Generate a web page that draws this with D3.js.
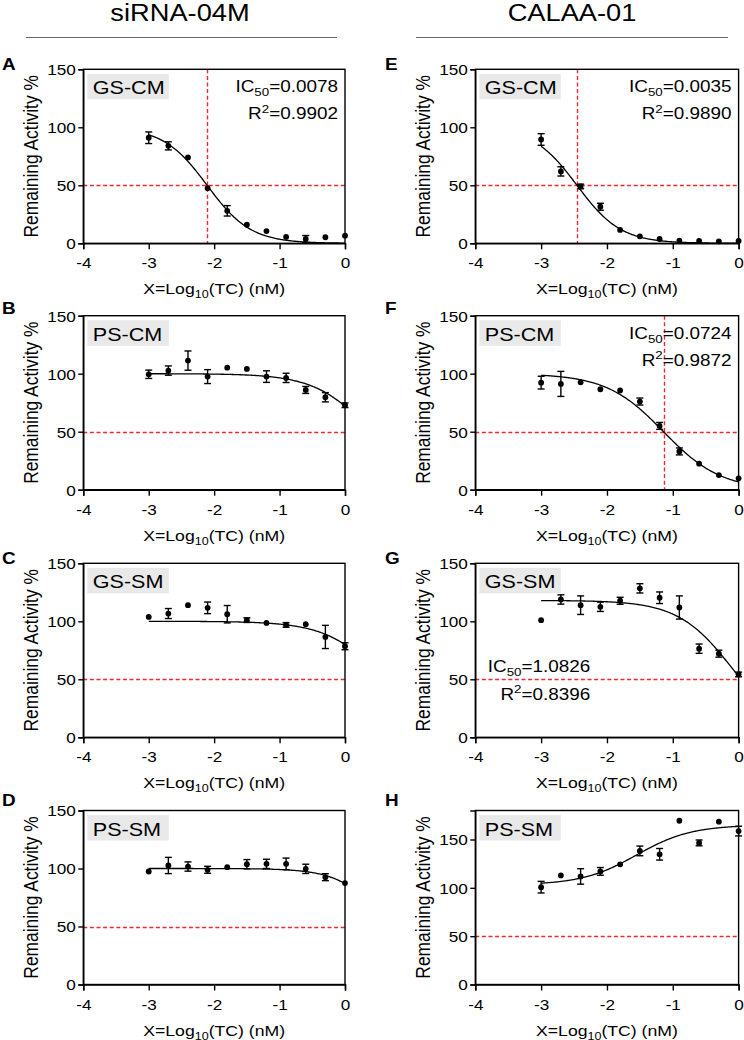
<!DOCTYPE html>
<html><head><meta charset="utf-8">
<script src="https://cdn.jsdelivr.net/npm/d3@7"></script>
<style>
html,body{margin:0;padding:0;background:#fff;}
svg{display:block;font-family:"Liberation Sans",Arial,sans-serif;}
</style></head>
<body>
<svg id="fig" width="744" height="1040"></svg>
<script>
// ---------------- data ----------------
const columnTitles = ["siRNA-04M", "CALAA-01"];
const panelLetters = ["A","B","C","D","E","F","G","H"];
const panelNames = ["GS-CM","PS-CM","GS-SM","PS-SM","GS-CM","PS-CM","GS-SM","PS-SM"];
const xLog = [-3, -2.7, -2.4, -2.1, -1.8, -1.5, -1.2, -0.9, -0.6, -0.3, 0];
const xTicks = [-4, -3, -2, -1, 0];
const yTicks = [0, 50, 100, 150];
const yMaxes = [150,150,150,150,150,150,150,180];

const A_mean = [91, 84, 74, 47.5, 28, 16, 10.5, 5.5, 3.7, 5.2, 6.6];
const A_err  = [5, 3.5, 0, 0, 4.5, 0, 0, 0, 3, 0, 0];
const B_mean = [99.5, 102.7, 111.3, 97.5, 105.2, 104.1, 97.5, 96.4, 86, 79.7, 72.8];
const B_err  = [3.6, 4, 8.3, 6, 0, 0, 5, 4, 3, 4, 2];
const C_mean = [103.8, 106.7, 113.9, 111.6, 106.1, 101, 98.6, 96.9, 97.5, 86.5, 78.5];
const C_err  = [0, 4.3, 0, 5, 7.5, 2, 0, 2, 0, 10, 3];
const D_mean = [97.4, 102.6, 101.7, 98.9, 101.1, 103.7, 104, 104, 99.7, 92.5, 87.4];
const D_err  = [0, 7, 4, 3, 0, 4, 4, 5, 4, 3, 0];
const E_mean = [89.5, 62, 49, 31.5, 11.5, 6, 3.7, 2.3, 2, 1.7, 2];
const E_err  = [5, 4, 2, 3, 0, 0, 0, 0, 0, 0, 0];
const F_mean = [92.3, 91.2, 92.6, 86.6, 85.5, 76, 55, 33, 22.4, 12.6, 9.8];
const F_err  = [5.5, 10.8, 0, 0, 0, 3, 3, 3, 0, 0, 0];
const G_mean = [101, 118.8, 113.9, 112.5, 117.7, 128.4, 120.3, 111.9, 76.4, 72.1, 54.2];
const G_err  = [0, 4, 8, 4, 3, 4, 5, 10, 4, 3, 2];
const H_mean = [100.7, 112.8, 111.8, 117, 124.3, 138.2, 134.7, 169.4, 146.5, 168.4, 158.7];
const H_err  = [6, 0, 8, 4, 0, 5, 6, 0, 3, 0, 5];

// fitted 4PL parameters: [bottom, top, logIC50, hill]
const A_fit = [0, 100, -2.108, 1.3];
const B_fit = [0, 100, 0.4, 1.02];
const C_fit = [0, 100, 0.6, 1.0];
const D_fit = [0, 100, 0.67, 1.23];
const E_fit = [0, 100, -2.456, 1.3];
const F_fit = [0, 100, -1.14, 1.0];
const G_fit = [0, 118, -0.09, 1.05];
const H_fit = [103, 165, -1.55, -1.05];

// annotations (IC50, R2); null = none
const ic50Values = [0.0078, null, null, null, 0.0035, 0.0724, 1.0826, null];
const ic50Labels = ["0.0078", null, null, null, "0.0035", "0.0724", "1.0826", null];
const r2Labels   = ["0.9902", null, null, null, "0.9890", "0.9872", "0.8396", null];

const means = [A_mean,B_mean,C_mean,D_mean,E_mean,F_mean,G_mean,H_mean];
const errs  = [A_err,B_err,C_err,D_err,E_err,F_err,G_err,H_err];
const fits  = [A_fit,B_fit,C_fit,D_fit,E_fit,F_fit,G_fit,H_fit];

// ---------------- layout ----------------
const SX = 1.16;               // horizontal stretch of the original figure's text
const RED = "#ea2a2f";
const cols = [{x0: 83.3, x1: 345, letterX: 2}, {x0: 475.3, x1: 738.6, letterX: 385}];
const rowTops = [69.3, 315.7, 563.3, 810.5];
const letterDY = [1, -2, 1, -5];
const plotH = 174;

const svg = d3.select("#fig");

function stext(parent, x, y, opts) {
  const t = parent.append("text")
    .attr("transform", `translate(${x},${y}) scale(${SX},1)` + (opts.rotate ? ` rotate(${opts.rotate})` : ""))
    .attr("font-size", opts.size)
    .attr("text-anchor", opts.anchor || "start")
    .attr("fill", opts.fill || "#000");
  if (opts.weight) t.attr("font-weight", opts.weight);
  if (opts.dy) t.attr("dy", opts.dy);
  return t;
}

// column headers
columnTitles.forEach((title, ci) => {
  const cx = ci === 0 ? 180 : 572;
  stext(svg, cx, 21, {size: 23.5, anchor: "middle"}).text(title);
  const lx0 = ci === 0 ? 26 : 416, lx1 = ci === 0 ? 337 : 728;
  svg.append("line").attr("x1", lx0).attr("x2", lx1).attr("y1", 37.5).attr("y2", 37.5)
    .attr("stroke", "#666").attr("stroke-width", 1.2);
});

const curve4pl = (p, x) => p[0] + (p[1] - p[0]) / (1 + Math.pow(10, (x - p[2]) * p[3]));

for (let i = 0; i < 8; i++) {
  const ci = Math.floor(i / 4), ri = i % 4;
  const col = cols[ci];
  const top = rowTops[ri], bottom = top + plotH;
  const x = d3.scaleLinear().domain([-4, 0]).range([col.x0, col.x1]);
  const y = d3.scaleLinear().domain([0, yMaxes[i]]).range([bottom, top]);
  const g = svg.append("g");

  // label box
  g.append("rect").attr("x", col.x0 + 4).attr("y", top + 4.5).attr("width", 81.5).attr("height", 25.5)
    .attr("fill", "#e9e9e9");
  stext(g, col.x0 + 9.5, top + 25, {size: 18.6}).text(panelNames[i]);

  // reference lines
  const y50 = Math.round(y(50)) + 0.5;
  g.append("line").attr("x1", col.x0).attr("x2", col.x1).attr("y1", y50).attr("y2", y50)
    .attr("stroke", RED).attr("stroke-width", 1.4).attr("stroke-dasharray", "4,2.6");
  if (ic50Values[i] !== null) {
    const lx = Math.log10(ic50Values[i]);
    if (lx <= 0) {
      const vx = Math.round(x(lx)) + 0.5;
      g.append("line").attr("x1", vx).attr("x2", vx).attr("y1", top).attr("y2", bottom)
        .attr("stroke", RED).attr("stroke-width", 1.4).attr("stroke-dasharray", "4,2.6");
    }
  }

  // frame (top/right)
  g.append("rect").attr("x", col.x0).attr("y", top).attr("width", col.x1 - col.x0).attr("height", plotH)
    .attr("fill", "none").attr("stroke", "#000").attr("stroke-width", 1.4);

  // axes
  const xAxis = d3.axisBottom(x).tickValues(xTicks).tickSize(6).tickPadding(3).tickFormat(d3.format("d"));
  const yAxis = d3.axisLeft(y).tickValues(yTicks).tickSize(5).tickPadding(3).tickFormat(d3.format("d"));
  const gx = g.append("g").attr("transform", `translate(0,${bottom})`).call(xAxis);
  const gy = g.append("g").attr("transform", `translate(${col.x0},0)`).call(yAxis);
  [gx, gy].forEach(a => {
    a.select(".domain").attr("stroke", "#000").attr("stroke-width", 1.4);
    a.selectAll(".tick line").attr("stroke", "#000").attr("stroke-width", 1.4);
    a.selectAll(".tick text").attr("fill", "#000").attr("font-size", 14.8)
      .attr("font-family", "Liberation Sans, Arial, sans-serif");
  });
  gx.selectAll(".tick text").each(function(d) {
    const t = d3.select(this);
    t.attr("y", null).attr("dy", null)
      .attr("transform", `translate(0,25) scale(${SX},1)`)
      .text(d3.format("d")(d).replace("−", "-"));
  });
  gy.selectAll(".tick text").each(function() {
    const t = d3.select(this);
    t.attr("x", null).attr("dy", null)
      .attr("transform", `translate(-7.5,5.3) scale(${SX},1)`);
  });

  // fitted curve
  const xs = d3.range(0, 201).map(k => -3 + 3 * k / 200);
  g.append("path").datum(xs)
    .attr("d", d3.line().x(d => x(d)).y(d => y(curve4pl(fits[i], d))))
    .attr("fill", "none").attr("stroke", "#000").attr("stroke-width", 1.3);

  // error bars & points
  const pts = xLog.map((xv, k) => ({x: xv, m: means[i][k], e: errs[i][k]}));
  const eb = g.append("g").attr("stroke", "#000").attr("stroke-width", 1.4);
  pts.filter(p => p.e > 0).forEach(p => {
    eb.append("line").attr("x1", x(p.x)).attr("x2", x(p.x)).attr("y1", y(p.m - p.e)).attr("y2", y(p.m + p.e));
    [p.m - p.e, p.m + p.e].forEach(v => {
      eb.append("line").attr("x1", x(p.x) - 3.5).attr("x2", x(p.x) + 3.5).attr("y1", y(v)).attr("y2", y(v));
    });
  });
  g.selectAll("circle.pt").data(pts).join("circle").attr("class", "pt")
    .attr("cx", d => x(d.x)).attr("cy", d => y(d.m)).attr("r", 2.9).attr("fill", "#000");

  // annotations
  if (ic50Labels[i] !== null) {
    let ax = col.x1 - 7, ay1 = top + 23, ay2 = top + 50;
    if (i === 6) { ax = 590.3; ay1 = top + 108.5; ay2 = top + 136.5; }
    const t1 = stext(g, ax, ay1, {size: 16.3, anchor: "end"});
    t1.append("tspan").text("IC");
    t1.append("tspan").attr("font-size", 11.5).attr("dy", 4).text("50");
    t1.append("tspan").attr("dy", -4).text("=" + ic50Labels[i]);
    const t2 = stext(g, ax, ay2, {size: 16.3, anchor: "end"});
    t2.append("tspan").text("R");
    t2.append("tspan").attr("font-size", 11.5).attr("dy", -6.5).text("2");
    t2.append("tspan").attr("dy", 6.5).text("=" + r2Labels[i]);
  }

  // axis titles
  const xt = stext(g, (col.x0 + col.x1) / 2, bottom + 51, {size: 15.2, anchor: "middle"});
  xt.append("tspan").text("X=Log");
  xt.append("tspan").attr("font-size", 10.8).attr("dy", 4).text("10");
  xt.append("tspan").attr("dy", -4).text("(TC) (nM)");

  stext(g, col.x0 - 45.5, (top + bottom) / 2, {size: 17.4, anchor: "middle", rotate: -90})
    .text("Remaining Activity %");

  // panel letter
  stext(g, col.letterX, top + letterDY[ri], {size: 16.3, weight: "bold"}).text(panelLetters[i]);
}
</script>
</body></html>
